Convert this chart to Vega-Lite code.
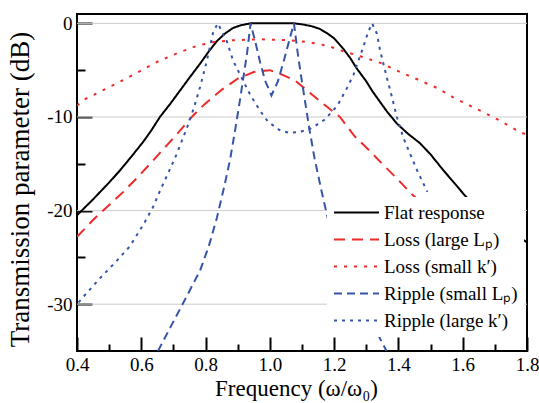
{
  "$schema": "https://vega.github.io/schema/vega-lite/v6.json",
  "width": 450,
  "height": 337,
  "autosize": {"type": "none"},
  "padding": {"left": 77, "top": 14, "right": 12, "bottom": 52},
  "background": "white",
  "config": {
    "font": "Liberation Serif",
    "view": {"stroke": "black", "strokeWidth": 2}
  },
  "datasets": {
    "grid": [{"db": -30}, {"db": -20}, {"db": -10}, {"db": 0}],
    "curves": [
      {"s": "Flat response", "f": 0.40, "db": -20.5},
      {"s": "Flat response", "f": 0.45, "db": -18.8},
      {"s": "Flat response", "f": 0.50, "db": -17.0},
      {"s": "Flat response", "f": 0.534, "db": -15.7},
      {"s": "Flat response", "f": 0.57, "db": -14.2},
      {"s": "Flat response", "f": 0.605, "db": -12.7},
      {"s": "Flat response", "f": 0.63, "db": -11.5},
      {"s": "Flat response", "f": 0.658, "db": -10.0},
      {"s": "Flat response", "f": 0.69, "db": -8.6},
      {"s": "Flat response", "f": 0.72, "db": -7.2},
      {"s": "Flat response", "f": 0.75, "db": -5.8},
      {"s": "Flat response", "f": 0.783, "db": -4.3},
      {"s": "Flat response", "f": 0.81, "db": -3.0},
      {"s": "Flat response", "f": 0.835, "db": -1.9},
      {"s": "Flat response", "f": 0.86, "db": -1.1},
      {"s": "Flat response", "f": 0.885, "db": -0.5},
      {"s": "Flat response", "f": 0.91, "db": -0.2},
      {"s": "Flat response", "f": 0.94, "db": 0},
      {"s": "Flat response", "f": 1.0, "db": 0},
      {"s": "Flat response", "f": 1.075, "db": 0},
      {"s": "Flat response", "f": 1.10, "db": -0.1},
      {"s": "Flat response", "f": 1.13, "db": -0.3},
      {"s": "Flat response", "f": 1.156, "db": -0.6},
      {"s": "Flat response", "f": 1.18, "db": -1.1},
      {"s": "Flat response", "f": 1.20, "db": -1.6},
      {"s": "Flat response", "f": 1.228, "db": -2.7},
      {"s": "Flat response", "f": 1.25, "db": -3.7},
      {"s": "Flat response", "f": 1.27, "db": -4.8},
      {"s": "Flat response", "f": 1.30, "db": -6.2},
      {"s": "Flat response", "f": 1.32, "db": -7.3},
      {"s": "Flat response", "f": 1.345, "db": -8.5},
      {"s": "Flat response", "f": 1.364, "db": -9.4},
      {"s": "Flat response", "f": 1.395, "db": -10.7},
      {"s": "Flat response", "f": 1.43, "db": -11.8},
      {"s": "Flat response", "f": 1.467, "db": -12.8},
      {"s": "Flat response", "f": 1.50, "db": -14.0},
      {"s": "Flat response", "f": 1.54, "db": -15.7},
      {"s": "Flat response", "f": 1.575, "db": -17.1},
      {"s": "Flat response", "f": 1.607, "db": -18.4},
      {"s": "Flat response", "f": 1.65, "db": -19.8},
      {"s": "Flat response", "f": 1.70, "db": -21.1},
      {"s": "Flat response", "f": 1.75, "db": -22.2},
      {"s": "Flat response", "f": 1.80, "db": -23.4},

      {"s": "Loss (large Lₚ)", "f": 0.40, "db": -22.8},
      {"s": "Loss (large Lₚ)", "f": 0.453, "db": -20.9},
      {"s": "Loss (large Lₚ)", "f": 0.50, "db": -19.4},
      {"s": "Loss (large Lₚ)", "f": 0.544, "db": -18.0},
      {"s": "Loss (large Lₚ)", "f": 0.587, "db": -16.5},
      {"s": "Loss (large Lₚ)", "f": 0.633, "db": -14.8},
      {"s": "Loss (large Lₚ)", "f": 0.68, "db": -13.0},
      {"s": "Loss (large Lₚ)", "f": 0.717, "db": -11.6},
      {"s": "Loss (large Lₚ)", "f": 0.757, "db": -10.0},
      {"s": "Loss (large Lₚ)", "f": 0.798, "db": -8.6},
      {"s": "Loss (large Lₚ)", "f": 0.85, "db": -7.1},
      {"s": "Loss (large Lₚ)", "f": 0.90, "db": -5.9},
      {"s": "Loss (large Lₚ)", "f": 0.95, "db": -5.2},
      {"s": "Loss (large Lₚ)", "f": 1.00, "db": -5.0},
      {"s": "Loss (large Lₚ)", "f": 1.04, "db": -5.5},
      {"s": "Loss (large Lₚ)", "f": 1.078, "db": -6.1},
      {"s": "Loss (large Lₚ)", "f": 1.12, "db": -7.3},
      {"s": "Loss (large Lₚ)", "f": 1.17, "db": -8.7},
      {"s": "Loss (large Lₚ)", "f": 1.218, "db": -10.0},
      {"s": "Loss (large Lₚ)", "f": 1.262, "db": -12.0},
      {"s": "Loss (large Lₚ)", "f": 1.31, "db": -13.6},
      {"s": "Loss (large Lₚ)", "f": 1.355, "db": -15.2},
      {"s": "Loss (large Lₚ)", "f": 1.396, "db": -16.6},
      {"s": "Loss (large Lₚ)", "f": 1.44, "db": -18.2},
      {"s": "Loss (large Lₚ)", "f": 1.50, "db": -20.0},
      {"s": "Loss (large Lₚ)", "f": 1.55, "db": -21.5},
      {"s": "Loss (large Lₚ)", "f": 1.60, "db": -22.8},
      {"s": "Loss (large Lₚ)", "f": 1.65, "db": -24.0},
      {"s": "Loss (large Lₚ)", "f": 1.70, "db": -25.2},
      {"s": "Loss (large Lₚ)", "f": 1.77, "db": -26.7},
      {"s": "Loss (large Lₚ)", "f": 1.80, "db": -27.3},

      {"s": "Loss (small k′)", "f": 0.40, "db": -8.8},
      {"s": "Loss (small k′)", "f": 0.425, "db": -8.1},
      {"s": "Loss (small k′)", "f": 0.472, "db": -7.3},
      {"s": "Loss (small k′)", "f": 0.53, "db": -6.3},
      {"s": "Loss (small k′)", "f": 0.596, "db": -5.1},
      {"s": "Loss (small k′)", "f": 0.65, "db": -4.1},
      {"s": "Loss (small k′)", "f": 0.711, "db": -3.2},
      {"s": "Loss (small k′)", "f": 0.773, "db": -2.4},
      {"s": "Loss (small k′)", "f": 0.824, "db": -2.0},
      {"s": "Loss (small k′)", "f": 0.885, "db": -1.8},
      {"s": "Loss (small k′)", "f": 0.97, "db": -1.7},
      {"s": "Loss (small k′)", "f": 1.06, "db": -1.8},
      {"s": "Loss (small k′)", "f": 1.12, "db": -2.0},
      {"s": "Loss (small k′)", "f": 1.18, "db": -2.4},
      {"s": "Loss (small k′)", "f": 1.23, "db": -3.0},
      {"s": "Loss (small k′)", "f": 1.29, "db": -3.6},
      {"s": "Loss (small k′)", "f": 1.35, "db": -4.3},
      {"s": "Loss (small k′)", "f": 1.405, "db": -5.2},
      {"s": "Loss (small k′)", "f": 1.46, "db": -6.0},
      {"s": "Loss (small k′)", "f": 1.52, "db": -6.9},
      {"s": "Loss (small k′)", "f": 1.57, "db": -7.9},
      {"s": "Loss (small k′)", "f": 1.623, "db": -8.8},
      {"s": "Loss (small k′)", "f": 1.70, "db": -10.1},
      {"s": "Loss (small k′)", "f": 1.778, "db": -11.6},
      {"s": "Loss (small k′)", "f": 1.80, "db": -11.9},

      {"s": "Ripple (small Lₚ)", "f": 0.652, "db": -35},
      {"s": "Ripple (small Lₚ)", "f": 0.69, "db": -32.5},
      {"s": "Ripple (small Lₚ)", "f": 0.73, "db": -29.9},
      {"s": "Ripple (small Lₚ)", "f": 0.783, "db": -26.4},
      {"s": "Ripple (small Lₚ)", "f": 0.81, "db": -23.8},
      {"s": "Ripple (small Lₚ)", "f": 0.835, "db": -20.8},
      {"s": "Ripple (small Lₚ)", "f": 0.857, "db": -17.6},
      {"s": "Ripple (small Lₚ)", "f": 0.876, "db": -14.6},
      {"s": "Ripple (small Lₚ)", "f": 0.892, "db": -11.4},
      {"s": "Ripple (small Lₚ)", "f": 0.907, "db": -8.2},
      {"s": "Ripple (small Lₚ)", "f": 0.918, "db": -5.7},
      {"s": "Ripple (small Lₚ)", "f": 0.929, "db": -3.2},
      {"s": "Ripple (small Lₚ)", "f": 0.94, "db": 0},
      {"s": "Ripple (small Lₚ)", "f": 0.955, "db": -2.0},
      {"s": "Ripple (small Lₚ)", "f": 0.97, "db": -4.2},
      {"s": "Ripple (small Lₚ)", "f": 0.985, "db": -6.1},
      {"s": "Ripple (small Lₚ)", "f": 1.005, "db": -7.7},
      {"s": "Ripple (small Lₚ)", "f": 1.025, "db": -6.2},
      {"s": "Ripple (small Lₚ)", "f": 1.045, "db": -3.8},
      {"s": "Ripple (small Lₚ)", "f": 1.062, "db": -1.6},
      {"s": "Ripple (small Lₚ)", "f": 1.075, "db": 0},
      {"s": "Ripple (small Lₚ)", "f": 1.086, "db": -3.0},
      {"s": "Ripple (small Lₚ)", "f": 1.097, "db": -5.6},
      {"s": "Ripple (small Lₚ)", "f": 1.108, "db": -8.0},
      {"s": "Ripple (small Lₚ)", "f": 1.123, "db": -11.3},
      {"s": "Ripple (small Lₚ)", "f": 1.139, "db": -14.4},
      {"s": "Ripple (small Lₚ)", "f": 1.16, "db": -17.8},
      {"s": "Ripple (small Lₚ)", "f": 1.18, "db": -20.8},
      {"s": "Ripple (small Lₚ)", "f": 1.205, "db": -23.8},
      {"s": "Ripple (small Lₚ)", "f": 1.232, "db": -26.4},
      {"s": "Ripple (small Lₚ)", "f": 1.285, "db": -29.9},
      {"s": "Ripple (small Lₚ)", "f": 1.325, "db": -32.5},
      {"s": "Ripple (small Lₚ)", "f": 1.363, "db": -35},

      {"s": "Ripple (large k′)", "f": 0.405, "db": -29.8},
      {"s": "Ripple (large k′)", "f": 0.42, "db": -29.2},
      {"s": "Ripple (large k′)", "f": 0.472, "db": -27.2},
      {"s": "Ripple (large k′)", "f": 0.52, "db": -25.5},
      {"s": "Ripple (large k′)", "f": 0.565, "db": -23.8},
      {"s": "Ripple (large k′)", "f": 0.608, "db": -21.4},
      {"s": "Ripple (large k′)", "f": 0.637, "db": -19.6},
      {"s": "Ripple (large k′)", "f": 0.658, "db": -17.9},
      {"s": "Ripple (large k′)", "f": 0.685, "db": -15.9},
      {"s": "Ripple (large k′)", "f": 0.711, "db": -13.9},
      {"s": "Ripple (large k′)", "f": 0.746, "db": -10.8},
      {"s": "Ripple (large k′)", "f": 0.761, "db": -9.3},
      {"s": "Ripple (large k′)", "f": 0.783, "db": -6.8},
      {"s": "Ripple (large k′)", "f": 0.804, "db": -4.0},
      {"s": "Ripple (large k′)", "f": 0.824, "db": -0.9},
      {"s": "Ripple (large k′)", "f": 0.838, "db": 0},
      {"s": "Ripple (large k′)", "f": 0.866, "db": -1.9},
      {"s": "Ripple (large k′)", "f": 0.886, "db": -4.0},
      {"s": "Ripple (large k′)", "f": 0.912, "db": -5.8},
      {"s": "Ripple (large k′)", "f": 0.94, "db": -7.7},
      {"s": "Ripple (large k′)", "f": 0.969, "db": -9.3},
      {"s": "Ripple (large k′)", "f": 0.994, "db": -10.5},
      {"s": "Ripple (large k′)", "f": 1.03, "db": -11.4},
      {"s": "Ripple (large k′)", "f": 1.06, "db": -11.7},
      {"s": "Ripple (large k′)", "f": 1.09, "db": -11.6},
      {"s": "Ripple (large k′)", "f": 1.116, "db": -11.4},
      {"s": "Ripple (large k′)", "f": 1.134, "db": -11.1},
      {"s": "Ripple (large k′)", "f": 1.17, "db": -10.3},
      {"s": "Ripple (large k′)", "f": 1.21, "db": -8.8},
      {"s": "Ripple (large k′)", "f": 1.24, "db": -6.9},
      {"s": "Ripple (large k′)", "f": 1.26, "db": -5.5},
      {"s": "Ripple (large k′)", "f": 1.29, "db": -2.6},
      {"s": "Ripple (large k′)", "f": 1.305, "db": -1.0},
      {"s": "Ripple (large k′)", "f": 1.318, "db": 0},
      {"s": "Ripple (large k′)", "f": 1.333, "db": -1.1},
      {"s": "Ripple (large k′)", "f": 1.343, "db": -2.9},
      {"s": "Ripple (large k′)", "f": 1.364, "db": -5.8},
      {"s": "Ripple (large k′)", "f": 1.38, "db": -7.9},
      {"s": "Ripple (large k′)", "f": 1.395, "db": -10.0},
      {"s": "Ripple (large k′)", "f": 1.415, "db": -12.2},
      {"s": "Ripple (large k′)", "f": 1.458, "db": -15.7},
      {"s": "Ripple (large k′)", "f": 1.49, "db": -18.0}
    ]
  },
  "layer": [
    {
      "data": {"name": "grid"},
      "mark": {"type": "rule", "color": "#cccccc", "strokeWidth": 1},
      "encoding": {
        "y": {
          "field": "db",
          "type": "quantitative",
          "scale": {"domain": [-35, 1], "nice": false, "zero": false},
          "axis": {
            "values": [-30, -25, -20, -15, -10, -5, 0],
            "grid": false,
            "domain": false,
            "ticks": true,
            "tickColor": "black",
            "tickWidth": 2,
            "tickSize": -15,
            "tickDash": {"condition": {"test": "datum.value % 10 == 0", "value": [15, 0]}, "value": [8, 30]},
            "labelPadding": 20,
            "labelFlush": false,
            "labelOverlap": false,
            "labelFont": "Liberation Serif",
            "labelFontSize": 19,
            "labelColor": "black",
            "labelExpr": "datum.value % 10 == 0 ? '' + datum.value : ''",
            "title": "Transmission parameter (dB)",
            "titleFont": "Liberation Serif",
            "titleFontWeight": "normal",
            "titleColor": "black",
            "titleFontSize": 27,
            "titleX": -43,
            "titleY": 175
          }
        }
      }
    },
    {
      "data": {"name": "curves"},
      "mark": {"type": "line", "strokeWidth": 2, "clip": true},
      "encoding": {
        "x": {
          "field": "f",
          "type": "quantitative",
          "scale": {"domain": [0.4, 1.8], "nice": false, "zero": false},
          "axis": {
            "values": [0.4, 0.5, 0.6, 0.7, 0.8, 0.9, 1.0, 1.1, 1.2, 1.3, 1.4, 1.5, 1.6, 1.7, 1.8],
            "grid": false,
            "domain": false,
            "ticks": true,
            "tickColor": "black",
            "tickWidth": 2,
            "tickSize": -14,
            "tickDash": {"condition": {"test": "round(datum.value*10) % 2 == 0", "value": [14, 0]}, "value": [7, 30]},
            "labelPadding": 18,
            "labelFlush": false,
            "labelOverlap": false,
            "labelFont": "Liberation Serif",
            "labelFontSize": 19,
            "labelColor": "black",
            "labelExpr": "round(datum.value*10) % 2 == 0 ? format(datum.value, '.1f') : ''",
            "title": "Frequency (ω/ω₀)",
            "titleFont": "Liberation Serif",
            "titleFontWeight": "normal",
            "titleColor": "black",
            "titleFontSize": 23,
            "titleX": 219,
            "titleY": 44,
            "titleBaseline": "alphabetic"
          }
        },
        "y": {
          "field": "db",
          "type": "quantitative",
          "scale": {"domain": [-35, 1], "nice": false, "zero": false},
          "axis": {
            "values": [-30, -25, -20, -15, -10, -5, 0],
            "grid": false,
            "domain": false,
            "ticks": true,
            "tickColor": "black",
            "tickWidth": 2,
            "tickSize": -15,
            "tickDash": {"condition": {"test": "datum.value % 10 == 0", "value": [15, 0]}, "value": [8, 30]},
            "labelPadding": 20,
            "labelFlush": false,
            "labelOverlap": false,
            "labelFont": "Liberation Serif",
            "labelFontSize": 19,
            "labelColor": "black",
            "labelExpr": "datum.value % 10 == 0 ? '' + datum.value : ''",
            "title": "Transmission parameter (dB)",
            "titleFont": "Liberation Serif",
            "titleFontWeight": "normal",
            "titleColor": "black",
            "titleFontSize": 27,
            "titleX": -43,
            "titleY": 175
          }
        },
        "color": {
          "field": "s",
          "type": "nominal",
          "scale": {
            "domain": ["Flat response", "Loss (large Lₚ)", "Loss (small k′)", "Ripple (small Lₚ)", "Ripple (large k′)"],
            "range": ["#000000", "#ee2a2a", "#ee2a2a", "#3655a8", "#3655a8"]
          },
          "legend": {
            "title": null,
            "orient": "none",
            "legendX": 250,
            "legendY": 183,
            "fillColor": "white",
            "padding": 6,
            "symbolType": "M-3,0H3",
            "symbolSize": 225,
            "symbolStrokeWidth": 2,
            "symbolOffset": 14,
            "labelOffset": 18,
            "labelFont": "Liberation Serif",
            "labelFontSize": 19,
            "labelColor": "black",
            "labelLimit": 0,
            "rowPadding": 7
          }
        },
        "strokeDash": {
          "field": "s",
          "type": "nominal",
          "scale": {
            "domain": ["Flat response", "Loss (large Lₚ)", "Loss (small k′)", "Ripple (small Lₚ)", "Ripple (large k′)"],
            "range": [[1, 0], [11, 7], [3, 7], [8, 5], [3, 5]]
          },
          "legend": {
            "title": null,
            "orient": "none",
            "legendX": 250,
            "legendY": 183,
            "fillColor": "white",
            "padding": 6,
            "symbolType": "M-3,0H3",
            "symbolSize": 225,
            "symbolStrokeWidth": 2,
            "symbolOffset": 14,
            "labelOffset": 18,
            "labelFont": "Liberation Serif",
            "labelFontSize": 19,
            "labelColor": "black",
            "labelLimit": 0,
            "rowPadding": 7
          }
        }
      }
    }
  ]
}
